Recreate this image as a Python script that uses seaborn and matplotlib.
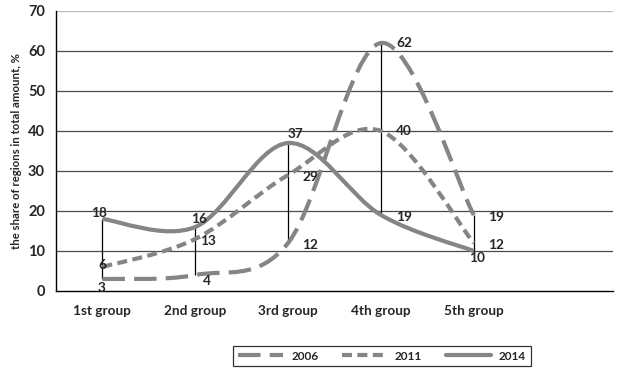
import matplotlib
matplotlib.use("Agg")
import matplotlib.pyplot as plt
from matplotlib.path import Path
from matplotlib.patches import PathPatch
from matplotlib.lines import Line2D
import seaborn as sns

# data
groups = ["1st group", "2nd group", "3rd group", "4th group", "5th group"]
years = ["2006", "2011", "2014"]
share_2006 = [3, 4, 12, 62, 19]
share_2011 = [6, 13, 29, 40, 12]
share_2014 = [18, 16, 37, 19, 10]
y_ticks = [0, 10, 20, 30, 40, 50, 60, 70]

sns.set_style("white")
plt.rcParams["font.family"] = ["Lato", "DejaVu Sans"]
plt.rcParams["font.weight"] = "bold"

GRAY = "#858585"
LW = 3
styles = {
    "2006": (0, (5.4, 2.2)),
    "2011": (0, (2.4, 1.3)),
    "2014": "solid",
}


def smooth_path(xs, ys):
    # excel-like smoothing: cubic bezier with catmull-rom control points
    pts = list(zip(xs, ys))
    n = len(pts)
    verts = [pts[0]]
    codes = [Path.MOVETO]
    for i in range(n - 1):
        p_prev = pts[max(i - 1, 0)]
        p0 = pts[i]
        p1 = pts[i + 1]
        p_next = pts[min(i + 2, n - 1)]
        c1 = (p0[0] + (p1[0] - p_prev[0]) / 6, p0[1] + (p1[1] - p_prev[1]) / 6)
        c2 = (p1[0] - (p_next[0] - p0[0]) / 6, p1[1] - (p_next[1] - p0[1]) / 6)
        verts += [c1, c2, p1]
        codes += [Path.CURVE4] * 3
    return Path(verts, codes)


fig = plt.figure(figsize=(6.21, 3.74), dpi=100)
ax = fig.add_axes([56 / 621, 1 - 291 / 374, (613 - 56) / 621, 280 / 374])

x = list(range(len(groups)))
series = {"2006": share_2006, "2011": share_2011, "2014": share_2014}

# gridlines
for v in y_ticks[1:]:
    ax.axhline(v, color="#bbbbbb" if v == 70 else "#4a4a4a", lw=0.9, zorder=1)

# high-low lines
lows = [min(a, b, c) for a, b, c in zip(share_2006, share_2011, share_2014)]
highs = [max(a, b, c) for a, b, c in zip(share_2006, share_2011, share_2014)]
ax.vlines(x, lows, highs, color="black", lw=0.9, zorder=2)

for yr in years:
    patch = PathPatch(smooth_path(x, series[yr]), facecolor="none", edgecolor=GRAY,
                      lw=LW, linestyle=styles[yr], capstyle="butt", zorder=3)
    ax.add_patch(patch)

# data labels: offsets in pixels (dx right, dy up)
label_offsets = {
    "2006": [(-1, -9), (12, -6), (22, -2), (23, 0), (22, -2)],
    "2011": [(0, 2), (13, -2), (22, -2), (23, 0), (22, -2)],
    "2014": [(-3, 6), (4, 8), (7, 9), (23, -2), (3, -7)],
}
for yr in years:
    for i, v in enumerate(series[yr]):
        dx, dy = label_offsets[yr][i]
        ax.annotate(str(v), (i, v), xytext=(dx * 0.72, dy * 0.72), textcoords="offset points",
                    ha="center", va="center", fontsize=9.8, fontweight="bold", zorder=4)

ax.set_xlim(-0.5, 5.5)
ax.set_ylim(0, 70)
ax.set_yticks(y_ticks)
ax.set_yticklabels([str(v) for v in y_ticks], fontsize=10.5, fontweight="bold")
ax.set_xticks([i - 0.5 for i in range(7)])
ax.set_xticklabels([])
ax.set_xticks(x, minor=True)
ax.set_xticklabels(groups, minor=True, fontsize=9.8, fontweight="bold")
ax.tick_params(axis="x", which="major", direction="out", length=4, width=0.9, color="black")
ax.tick_params(axis="x", which="minor", length=0, pad=10)
ax.tick_params(axis="y", direction="out", length=5, width=0.9, color="#4a4a4a", pad=3)
ax.set_ylabel("the share of regions in total amount, %", fontsize=8.2, fontweight="bold", labelpad=4)

for side in ["top", "right"]:
    ax.spines[side].set_visible(False)
ax.spines["left"].set_color("black")
ax.spines["bottom"].set_color("black")
ax.spines["left"].set_linewidth(1)
ax.spines["bottom"].set_linewidth(1)

handles = [Line2D([], [], color=GRAY, lw=LW, linestyle=styles[yr]) for yr in years]
leg = fig.legend(handles, years, loc="center", bbox_to_anchor=(382 / 621, 1 - 356 / 374), ncol=3,
                 frameon=True, fancybox=False, edgecolor="black", fontsize=8.5,
                 handlelength=3.8, columnspacing=2.0, borderpad=0.4, handletextpad=0.7)
leg.get_frame().set_linewidth(0.9)
for t in leg.get_texts():
    t.set_fontweight("bold")

fig.savefig("out.png", dpi=100)
